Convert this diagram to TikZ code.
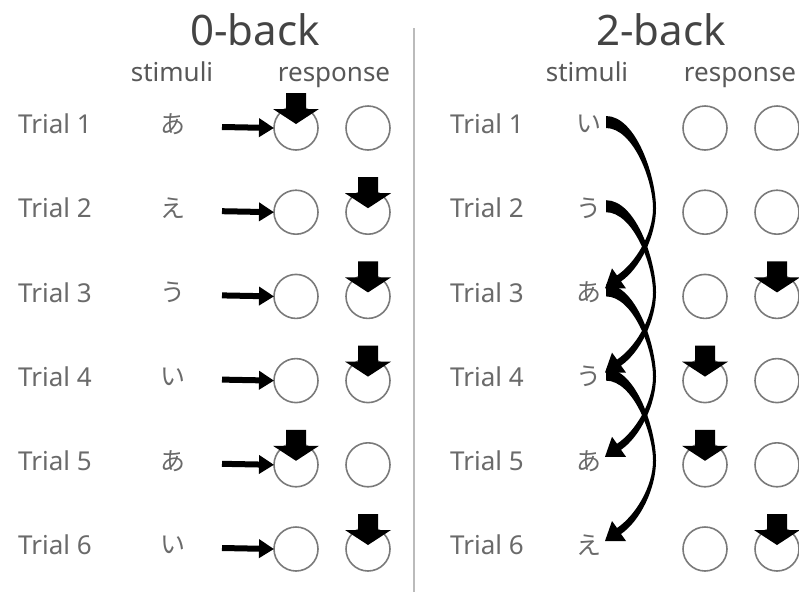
\documentclass[tikz,border=0pt]{standalone}
\usepackage{fontspec}
\setmainfont{Noto Sans}
\newfontfamily\jpfont{Noto Sans CJK JP}
\usetikzlibrary{arrows.meta,calc}
\definecolor{labelgrey}{HTML}{6A6A6A}
\definecolor{headgrey}{HTML}{585858}
\definecolor{titlegrey}{HTML}{444444}
\definecolor{ringgrey}{HTML}{7A7A7A}
\definecolor{rulegrey}{HTML}{BBBBBB}
\begin{document}
\begin{tikzpicture}[x=1pt,y=-1pt,
  title/.style={font=\fontsize{42}{42}\selectfont, text=titlegrey, anchor=base, inner sep=0pt},
  colhead/.style={font=\fontsize{26}{26}\selectfont, text=headgrey, anchor=base, inner sep=0pt},
  trial/.style={font=\fontsize{26}{26}\selectfont, text=labelgrey, anchor=west, inner sep=0pt},
  kana/.style={font=\jpfont\fontsize{25}{25}\selectfont, text=labelgrey, inner sep=0pt},
  ring/.style={circle, draw=ringgrey, line width=1.6pt, minimum size=44pt, inner sep=0pt, outer sep=0pt},
  harrow/.style={line width=6pt, -{Triangle[length=15pt,width=18pt]}},
  sepline/.style={draw=rulegrey, line width=2pt},
  downarr/.pic={\fill[black] (-10,-35) -- (10,-35) -- (10,-19) -- (23,-19) -- (0,-4) -- (-23,-19) -- (-10,-19) -- cycle;},
]
\useasboundingbox (0,0) rectangle (799,600);

% headings
\node[title] (titleL) at (255,45) {0-back};
\node[title] (titleR) at (661,45) {2-back};
\node[colhead] (stimL) at (172,81) {stimuli};
\node[colhead] (respL) at (334,81) {response};
\node[colhead] (stimR) at (587,81) {stimuli};
\node[colhead] (respR) at (740,81) {response};

% divider between the two tasks
\draw[sepline] (414,28) -- (414,592);

% 0-back rows
\foreach \i/\k in {1/あ,2/え,3/う,4/い,5/あ,6/い} {
  \pgfmathsetmacro\ry{124+84.2*(\i-1)}
  \node[trial] (tL\i) at (18,\ry) {Trial \i};
  \node[kana] (sL\i) at (173,\ry) {\k};
  \node[ring] (cLa\i) at (296,\ry+4) {};
  \node[ring] (cLb\i) at (368,\ry+4) {};
  \coordinate (hL\i) at (222,\ry+3);
  \draw[harrow] (hL\i) -- (cLa\i.west);
}
\foreach \i/\c in {1/a,2/b,3/b,4/b,5/a,6/b}
  \pic at (cL\c\i) {downarr};

% 2-back rows
\foreach \i/\k in {1/い,2/う,3/あ,4/う,5/あ,6/え} {
  \pgfmathsetmacro\ry{124+84.2*(\i-1)}
  \node[trial] (tR\i) at (450,\ry) {Trial \i};
  \node[kana] (sR\i) at (589,\ry) {\k};
  \node[ring] (cRa\i) at (705,\ry+4) {};
  \node[ring] (cRb\i) at (777,\ry+4) {};
}
\foreach \i/\c in {3/b,4/a,5/a,6/b}
  \pic at (cR\c\i) {downarr};

% tapered curved arrows linking each stimulus to the one two trials later
\foreach \i/\j in {1/3,2/4,3/5,4/6} {
  \fill[black]
    ($(sR\i)+(17,-8)$)
      .. controls ($(sR\i)+(47,-8)$) and ($(sR\i)!0.5!(sR\j)+(67,-32)$)
      .. ($(sR\i)!0.5!(sR\j)+(67,0)$)
      .. controls ($(sR\i)!0.5!(sR\j)+(67,28)$) and ($(sR\j)+(51,-24)$)
      .. ($(sR\j)+(32,-11)$)
    -- ($(sR\j)+(37,-4)$)
    -- ($(sR\j)+(16,-4)$)
    -- ($(sR\j)+(23,-24)$)
    -- ($(sR\j)+(28,-17)$)
      .. controls ($(sR\j)+(46,-29)$) and ($(sR\i)!0.5!(sR\j)+(64,26)$)
      .. ($(sR\i)!0.5!(sR\j)+(64,0)$)
      .. controls ($(sR\i)!0.5!(sR\j)+(64,-28)$) and ($(sR\i)+(44,4)$)
      .. ($(sR\i)+(17,4)$)
    -- cycle;
}
\end{tikzpicture}
\end{document}
